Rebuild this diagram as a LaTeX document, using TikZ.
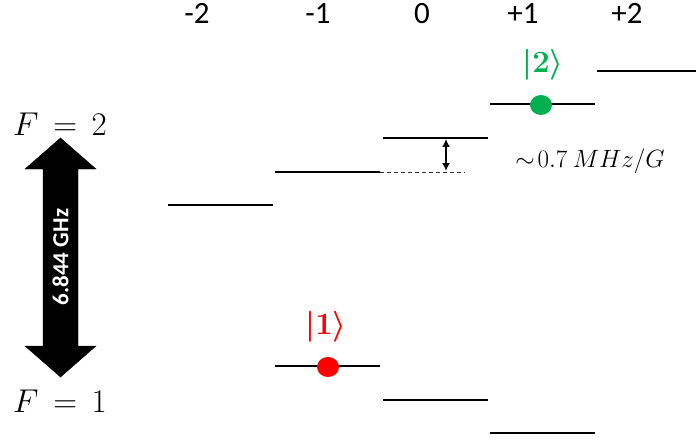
\RequirePackage{fix-cm}
\documentclass[tikz,border=0pt]{standalone}
\usepackage{fontspec}
\setmainfont{Carlito}
\usepackage{xcolor}
\usetikzlibrary{positioning,arrows.meta}

\definecolor{stategreen}{RGB}{0,176,80}
\definecolor{statered}{RGB}{255,0,0}

\begin{document}
\begin{tikzpicture}[
    x=1pt, y=-1pt,
    level/.style={line width=2.2pt},
    mlabel/.style={font=\fontsize{31}{34}\selectfont, anchor=base},
    flabel/.style={font=\fontsize{33}{36}\selectfont},
    ket/.style={font=\fontsize{31}{34}\selectfont\boldmath}
]
\useasboundingbox (0,0) rectangle (696,441);

% m_F labels
\node[mlabel] (mm2) at (197,24) {-2};
\node[mlabel] (mm1) at (318,24) {-1};
\node[mlabel] (m0) at (422,24) {0};
\node[mlabel] (mp1) at (523,24) {+1};
\node[mlabel] (mp2) at (627,24) {+2};

% F = 2 sublevels
\draw[level] (168,205) -- (273,205);
\draw[level] (275,172) -- (380,172);
\draw[level] (383,138) -- (488,138);
\draw[level] (490,104) -- (595,104);
\draw[level] (597,71) -- (696,71);

% F = 1 sublevels
\draw[level] (275,366) -- (380,366);
\draw[level] (383,400) -- (488,400);
\draw[level] (490,433) -- (595,433);

% Zeeman shift
\coordinate (ztop) at (446,139);
\coordinate (zbot) at (446,171);
\draw[dash pattern=on 4pt off 3pt, line width=0.8pt, black!80] (380,172) -- (465,172);
\draw[{Latex[length=8pt,width=8pt]}-{Latex[length=8pt,width=8pt]}, line width=1.6pt] (ztop) -- (zbot);
\node[font=\fontsize{25}{28}\selectfont] (shift) at (590,161) {$\sim\!0.7\ MHz/G$};

% states
\fill[statered] (328,367) ellipse (11 and 10);
\fill[stategreen] (541,105) ellipse (11 and 10);
\node[ket, text=statered] (s1) at (326,327) {$|1\rangle$};
\node[ket, text=stategreen] (s2) at (543,65) {$|2\rangle$};

% hyperfine levels
\node[flabel] (f2) at (60,124) {$F\,=\,2$};
\node[flabel] (f1) at (60,401) {$F\,=\,1$};

% hyperfine splitting arrow
\filldraw[black] (60.5,138) -- (96,169) -- (78,169) -- (78,346) -- (96,346)
    -- (60.5,377) -- (25,346) -- (43,346) -- (43,169) -- (25,169) -- cycle;
\node[rotate=90, text=white, font=\fontsize{23}{26}\selectfont\bfseries] (hfs) at (60.5,257) {6.844 GHz};

\end{tikzpicture}
\end{document}
